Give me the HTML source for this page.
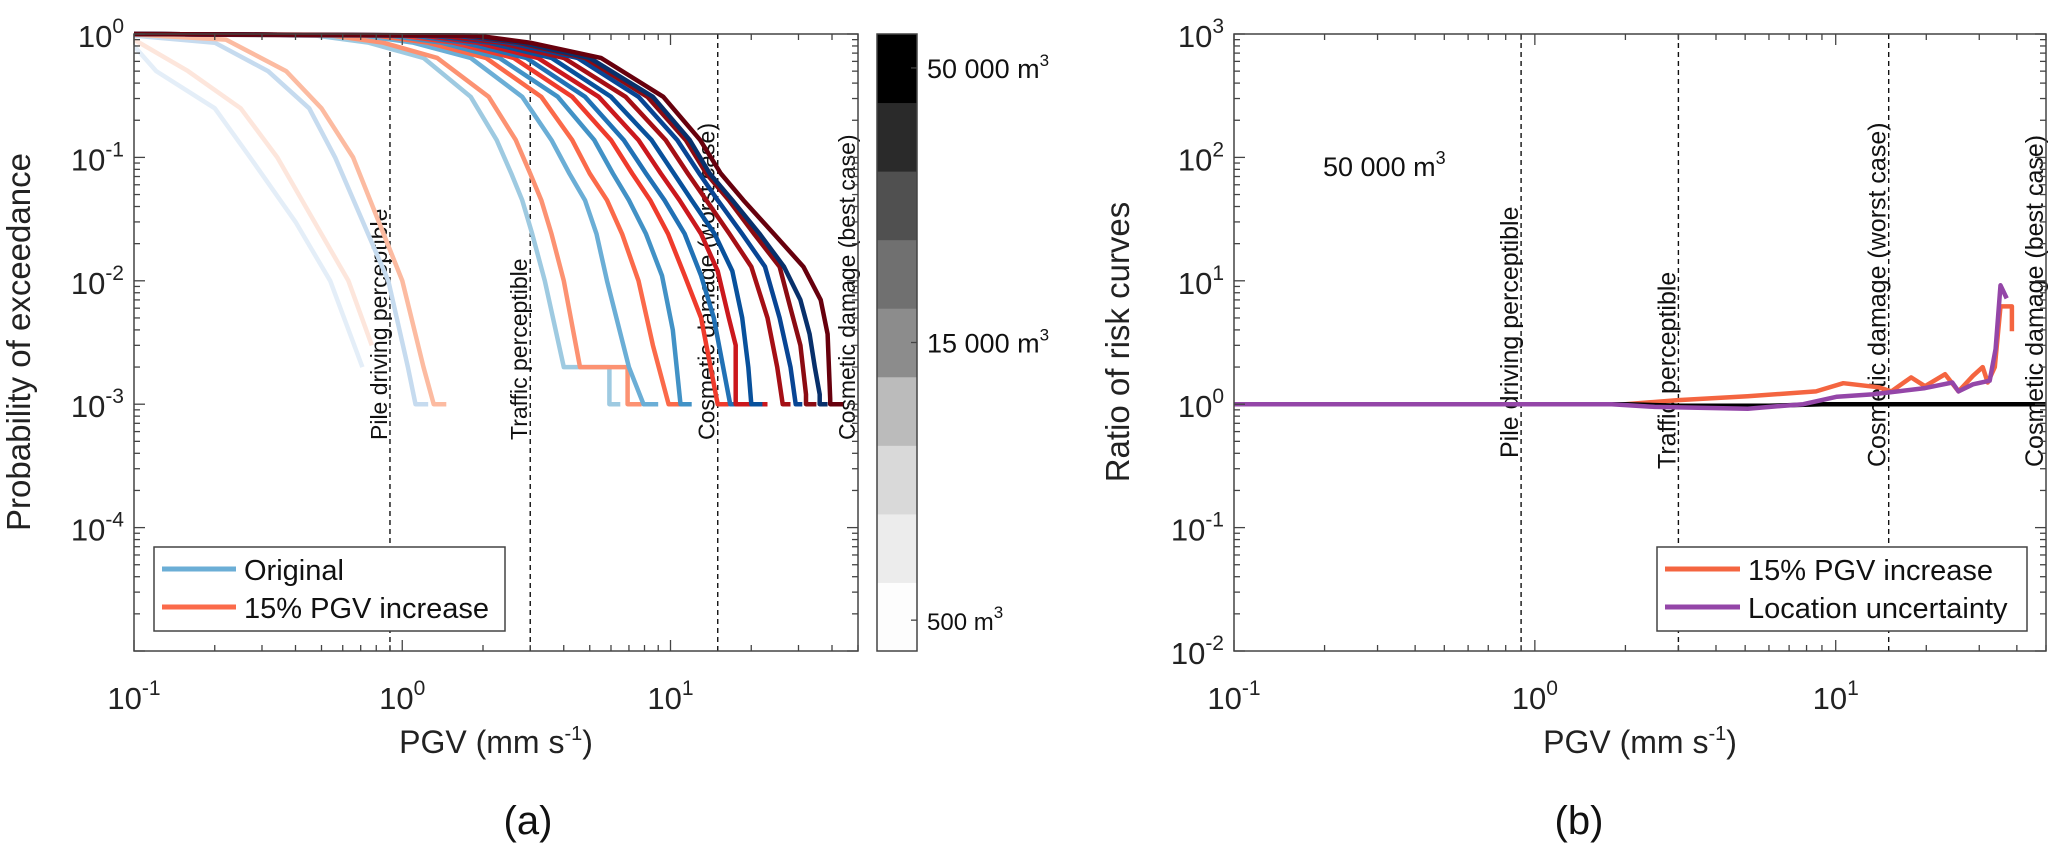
<!DOCTYPE html>
<html><head><meta charset="utf-8"><style>
html,body{margin:0;padding:0;background:#fff}
svg{display:block;font-family:"Liberation Sans",Arial,sans-serif}
</style></head><body>
<svg id="fig" width="2067" height="859" viewBox="0 0 2067 859" xmlns="http://www.w3.org/2000/svg"></svg>
<script>
// ---------- data: panel (a) ----------
const volumeColorsOrig = ['#e4eef8','#c6dbef','#9ecae1','#6baed6','#4292c6','#2171b5','#08519c','#084594','#08306b'];
const volumeColorsInc  = ['#fde6dc','#fcbba1','#fc9272','#fb6a4a','#ef3b2c','#cb181d','#a50f15','#8b0b12','#67000d'];
const origCurves = [
 [[0.1,0.8],[0.121,0.5],[0.2,0.25],[0.271,0.1],[0.4,0.03],[0.539,0.01],[0.71,0.002]],
 [[0.1,0.97],[0.2,0.85],[0.316,0.5],[0.45,0.25],[0.562,0.1],[0.887,0.01],[1.05,0.002],[1.12,0.001],[1.25,0.001]],
 [[0.1,1],[0.48,0.97],[0.75,0.85],[1.2,0.64],[1.8,0.31],[2.25,0.138],[2.55,0.074],[2.8,0.045],[3.05,0.024],[3.4,0.01],[4.0,0.002],[5.92,0.002],[5.92,0.001],[6.5,0.001]],
 [[0.1,1],[0.72,0.97],[1.1,0.85],[1.8,0.64],[2.8,0.31],[3.6,0.138],[4.2,0.074],[4.8,0.045],[5.3,0.024],[5.8,0.01],[7.0,0.002],[7.93,0.001],[9.0,0.001]],
 [[0.1,1],[0.9,0.97],[1.4,0.85],[2.3,0.64],[3.8,0.31],[5.2,0.138],[6.1,0.074],[7.0,0.045],[8.1,0.024],[9.3,0.011],[10.2,0.004],[10.9,0.001],[12,0.001]],
 [[0.1,1],[1.1,0.97],[1.7,0.85],[2.9,0.64],[4.8,0.31],[6.7,0.138],[8.1,0.074],[9.5,0.045],[11.3,0.024],[13,0.011],[14.5,0.005],[16.7,0.001],[18,0.001]],
 [[0.1,1],[1.3,0.97],[2.1,0.85],[3.6,0.64],[6.0,0.31],[8.5,0.138],[10.3,0.074],[12,0.045],[14.6,0.024],[17,0.012],[18.5,0.005],[19.5,0.002],[20,0.001],[22,0.001]],
 [[0.1,1],[1.6,0.97],[2.5,0.85],[4.5,0.64],[7.6,0.31],[10.6,0.138],[12.8,0.074],[15,0.045],[18.5,0.024],[22.5,0.013],[25.5,0.005],[28,0.002],[29.3,0.001],[31,0.001]],
 [[0.1,1],[1.8,0.97],[2.8,0.85],[5.0,0.64],[8.6,0.31],[11.8,0.138],[14,0.074],[17,0.045],[21.5,0.024],[26.5,0.013],[30.5,0.007],[33,0.0037],[34.5,0.002],[36,0.0012],[36,0.001],[38.5,0.001]]
];
const incCurves = [
 [[0.1,0.9],[0.159,0.5],[0.25,0.25],[0.342,0.1],[0.63,0.01],[0.77,0.003]],
 [[0.1,0.99],[0.22,0.9],[0.369,0.5],[0.5,0.25],[0.656,0.1],[1.0,0.01],[1.2,0.002],[1.31,0.001],[1.46,0.001]],
 [[0.1,1],[0.55,0.97],[0.85,0.85],[1.35,0.64],[2.1,0.31],[2.65,0.138],[3.0,0.074],[3.3,0.045],[3.6,0.024],[4.0,0.01],[4.6,0.002],[6.92,0.002],[6.92,0.001],[7.8,0.001]],
 [[0.1,1],[0.8,0.97],[1.25,0.85],[2.05,0.64],[3.3,0.31],[4.3,0.138],[5.0,0.074],[5.8,0.045],[6.6,0.024],[7.6,0.01],[8.6,0.003],[9.84,0.001],[11,0.001]],
 [[0.1,1],[1.0,0.97],[1.55,0.85],[2.6,0.64],[4.3,0.31],[6.0,0.138],[7.2,0.074],[8.4,0.045],[9.8,0.024],[11.3,0.011],[13,0.005],[15,0.001],[16.5,0.001]],
 [[0.1,1],[1.2,0.97],[1.9,0.85],[3.2,0.64],[5.4,0.31],[7.6,0.138],[9.2,0.074],[10.8,0.045],[13,0.024],[15,0.012],[16.5,0.005],[17.5,0.003],[17.5,0.001],[23,0.001]],
 [[0.1,1],[1.4,0.97],[2.3,0.85],[4.0,0.64],[6.8,0.31],[9.6,0.138],[11.6,0.074],[13.6,0.045],[16.6,0.024],[20,0.013],[23,0.005],[25,0.002],[26.2,0.001],[28,0.001]],
 [[0.1,1],[1.7,0.97],[2.7,0.85],[4.8,0.64],[8.2,0.31],[11.4,0.138],[13.6,0.074],[16.5,0.045],[20.5,0.024],[25.5,0.013],[28,0.006],[30.5,0.003],[32,0.0012],[32,0.001],[35,0.001]],
 [[0.1,1],[1.9,0.97],[3,0.85],[5.5,0.64],[9.4,0.31],[12.9,0.138],[15.4,0.074],[18.7,0.045],[24.3,0.024],[31.3,0.013],[36.3,0.007],[38.5,0.0037],[39.4,0.0011],[39.4,0.001],[44,0.001]]
];
const thresholds = [0.9, 3, 15, 50];
const thresholdLabels = ['Pile driving perceptible','Traffic perceptible','Cosmetic damage (worst case)','Cosmetic damage (best case)'];
const xTickExp = [-1, 0, 1];
const yTickExpA = [0, -1, -2, -3, -4];
const yTickExpB = [3, 2, 1, 0, -1, -2];
const cbarShades = ['#fdfdfd','#ececec','#d9d9d9','#bbbbbb','#8c8c8c','#707070','#505050','#2a2a2a','#000000'];
const cbarLabels = ['500','15 000','50 000'];
const cbarLabelFrac = [0.05, 0.5, 0.945];
// ---------- data: panel (b) ----------
const pgvInc   = [0.1,2,3,5.1,8.6,10.6,13.9,15.3,17.8,19.8,23.1,25.6,28.6,30.8,32,33.8,35.3,36,38.5,38.5];
const ratioInc = [1,1,1.08,1.16,1.27,1.48,1.37,1.27,1.65,1.4,1.75,1.27,1.7,2.0,1.5,2.0,6.2,6.2,6.2,3.9];
const pgvLoc   = [0.1,1.8,2.5,5.1,7.8,10.1,13.2,16.1,19.8,24.4,25.6,28.6,32.5,34,35.3,37];
const ratioLoc = [1,1,0.95,0.92,1.0,1.15,1.2,1.27,1.35,1.5,1.27,1.45,1.55,2.8,9.2,7.2];
const pgvBase  = [0.1,2,3,6,9,50];
const ratioBase= [1,1,0.97,0.97,1,1];

const NS='http://www.w3.org/2000/svg';
const svg=document.getElementById('fig');
function mk(tag,attrs,parent){const e=document.createElementNS(NS,tag);for(const k in attrs)e.setAttribute(k,attrs[k]);(parent||svg).appendChild(e);return e;}

function makeAxes(x0,x1,y0,y1,xmin,xmax,ymin,ymax){
  return {x0,x1,y0,y1,
    sx:v=>x0+(Math.log10(v)-xmin)/(xmax-xmin)*(x1-x0),
    sy:v=>y1-(Math.log10(v)-ymin)/(ymax-ymin)*(y1-y0),
    xmin,xmax,ymin,ymax};
}
const A=makeAxes(134,858,34,651,-1,Math.log10(50),-5,0);
const B=makeAxes(1234,2046,34,651,-1,Math.log10(50),-2,3);

function drawFrame(ax,g,yExps,name){
  for(let e=Math.floor(ax.xmin);e<=Math.ceil(ax.xmax);e++){
    for(let m=1;m<10;m++){
      const v=m*Math.pow(10,e); const lv=Math.log10(v);
      if(lv<ax.xmin-1e-9||lv>ax.xmax+1e-9)continue;
      const x=ax.sx(v), L=m===1?11:6;
      mk('line',{x1:x,x2:x,y1:ax.y1,y2:ax.y1-L,stroke:'#444','stroke-width':1.3},g);
      mk('line',{x1:x,x2:x,y1:ax.y0,y2:ax.y0+L,stroke:'#444','stroke-width':1.3},g);
    }
  }
  for(let e=ax.ymin;e<ax.ymax+1;e++){
    for(let m=1;m<10;m++){
      const v=m*Math.pow(10,e); const lv=Math.log10(v);
      if(lv>ax.ymax+1e-9)continue;
      const y=ax.sy(v), L=m===1?11:6;
      mk('line',{x1:ax.x0,x2:ax.x0+L,y1:y,y2:y,stroke:'#444','stroke-width':1.3},g);
      mk('line',{x1:ax.x1,x2:ax.x1-L,y1:y,y2:y,stroke:'#444','stroke-width':1.3},g);
    }
  }
  xTickExp.forEach(e=>{
    const t=mk('text',{x:ax.sx(Math.pow(10,e)),y:709,'font-size':31,'text-anchor':'middle',fill:'#222'},g);
    
    
    t.innerHTML='10<tspan dy="-14" font-size="21">'+e+'</tspan>';
  });
  yExps.forEach(e=>{
    const t=mk('text',{x:ax.x0-10,y:ax.sy(Math.pow(10,e))+13,'font-size':31,'text-anchor':'end',fill:'#222'},g);
    
    
    t.innerHTML='10<tspan dy="-14" font-size="21">'+e+'</tspan>';
  });
}
function drawThresholds(ax,g,bottoms,fs){
  thresholds.forEach((v,i)=>{
    const x=ax.sx(v);
    if(i<3){const l=mk('line',{x1:x,x2:x,y1:ax.y0,y2:ax.y1,stroke:'#111','stroke-width':1.4,'stroke-dasharray':'5,4'},g);
      
      }
    const t=mk('text',{x:x-3,y:bottoms[i],'font-size':fs,fill:'#111',transform:`rotate(-90 ${x-3} ${bottoms[i]})`},g);
    
    
    t.textContent=thresholdLabels[i];
  });
}
function pathFrom(ax,pts){return pts.map((p,i)=>(i?'L':'M')+ax.sx(p[0]).toFixed(1)+','+ax.sy(p[1]).toFixed(1)).join(' ');}

// ---------- Panel A ----------
const gA=mk('g',{});


const clipA=mk('clipPath',{id:'clipA'},gA);mk('rect',{x:A.x0,y:A.y0-3,width:A.x1-A.x0,height:A.y1-A.y0+3},clipA);
drawThresholds(A,gA,[440,440,440,440],23);
const curvesG=mk('g',{'clip-path':'url(#clipA)'},gA);
for(let k=0;k<9;k++){
  const pb=mk('path',{d:pathFrom(A,origCurves[k]),fill:'none',stroke:volumeColorsOrig[k],'stroke-width':4.5,'stroke-linejoin':'round'},curvesG);
  
  
  const pr=mk('path',{d:pathFrom(A,incCurves[k]),fill:'none',stroke:volumeColorsInc[k],'stroke-width':4.5,'stroke-linejoin':'round'},curvesG);
  
  
}
mk('rect',{x:A.x0,y:A.y0,width:A.x1-A.x0,height:A.y1-A.y0,fill:'none',stroke:'#444','stroke-width':1.5},gA);
drawFrame(A,gA,yTickExpA,'a');
const legA=mk('g',{},gA);


mk('rect',{x:154,y:547,width:351,height:84,fill:'#fff',stroke:'#444','stroke-width':1.5},legA);
mk('line',{x1:162,x2:236,y1:569,y2:569,stroke:'#6baed6','stroke-width':5},legA);
mk('line',{x1:162,x2:236,y1:607,y2:607,stroke:'#fb6a4a','stroke-width':5},legA);
let t=mk('text',{x:244,y:580,'font-size':29,fill:'#111'},legA);t.textContent='Original';
t=mk('text',{x:244,y:618,'font-size':29,fill:'#111'},legA);t.textContent='15% PGV increase';
const cb=mk('g',{},gA);


const cbx=877,cbw=40,cbt=34,cbb=651,bh=(cbb-cbt)/cbarShades.length;
cbarShades.forEach((c,i)=>{mk('rect',{x:cbx,y:cbb-(i+1)*bh,width:cbw,height:bh+0.5,fill:c},cb);});
mk('rect',{x:cbx,y:cbt,width:cbw,height:cbb-cbt,fill:'none',stroke:'#444','stroke-width':1.5},cb);
cbarLabels.forEach((s,i)=>{
  const y=cbb-cbarLabelFrac[i]*(cbb-cbt);
  mk('line',{x1:cbx+cbw,x2:cbx+cbw-6,y1:y,y2:y,stroke:'#444','stroke-width':1.3},cb);
  const tt=mk('text',{x:cbx+cbw+10,y:y+10,'font-size':i==0?24:27,fill:'#111'},cb);
  
  
  tt.innerHTML=s+' m<tspan dy="-12" font-size="17">3</tspan>';
});
t=mk('text',{x:30,y:342,'font-size':33,'text-anchor':'middle',fill:'#222',transform:'rotate(-90 30 342)'},gA);

t.textContent='Probability of exceedance';
t=mk('text',{x:496,y:753,'font-size':32,'text-anchor':'middle',fill:'#222'},gA);

t.innerHTML='PGV (mm s<tspan dy="-13" font-size="20">-1</tspan><tspan dy="13">)</tspan>';
t=mk('text',{x:528,y:834,'font-size':40,'text-anchor':'middle',fill:'#111'},gA);
t.textContent='(a)';

// ---------- Panel B ----------
const gB=mk('g',{});


drawThresholds(B,gB,[458,469,467,467],25);
function seriesPath(xs,ys){return xs.map((x,i)=>(i?'L':'M')+B.sx(x).toFixed(1)+','+B.sy(ys[i]).toFixed(1)).join(' ');}
let p=mk('path',{d:seriesPath(pgvInc,ratioInc),fill:'none',stroke:'#f46540','stroke-width':4.5,'stroke-linejoin':'round'},gB);

p=mk('path',{d:seriesPath(pgvBase,ratioBase),fill:'none',stroke:'#000','stroke-width':4.5},gB);

p=mk('path',{d:seriesPath(pgvLoc,ratioLoc),fill:'none',stroke:'#9446a8','stroke-width':4.5,'stroke-linejoin':'round'},gB);

mk('rect',{x:B.x0,y:B.y0,width:B.x1-B.x0,height:B.y1-B.y0,fill:'none',stroke:'#444','stroke-width':1.5},gB);
drawFrame(B,gB,yTickExpB,'b');
t=mk('text',{x:1323,y:176,'font-size':27,fill:'#111'},gB);

t.innerHTML='50 000 m<tspan dy="-12" font-size="18">3</tspan>';
const legB=mk('g',{},gB);


mk('rect',{x:1657,y:547,width:370,height:84,fill:'#fff',stroke:'#444','stroke-width':1.5},legB);
mk('line',{x1:1665,x2:1740,y1:569,y2:569,stroke:'#f46540','stroke-width':5},legB);
mk('line',{x1:1665,x2:1740,y1:607,y2:607,stroke:'#9446a8','stroke-width':5},legB);
t=mk('text',{x:1748,y:580,'font-size':29,fill:'#111'},legB);t.textContent='15% PGV increase';
t=mk('text',{x:1748,y:618,'font-size':29,fill:'#111'},legB);t.textContent='Location uncertainty';
t=mk('text',{x:1129,y:342,'font-size':33,'text-anchor':'middle',fill:'#222',transform:'rotate(-90 1129 342)'},gB);

t.textContent='Ratio of risk curves';
t=mk('text',{x:1640,y:753,'font-size':32,'text-anchor':'middle',fill:'#222'},gB);

t.innerHTML='PGV (mm s<tspan dy="-13" font-size="20">-1</tspan><tspan dy="13">)</tspan>';
t=mk('text',{x:1579,y:834,'font-size':40,'text-anchor':'middle',fill:'#111'},gB);
t.textContent='(b)';
</script>
</body></html>
